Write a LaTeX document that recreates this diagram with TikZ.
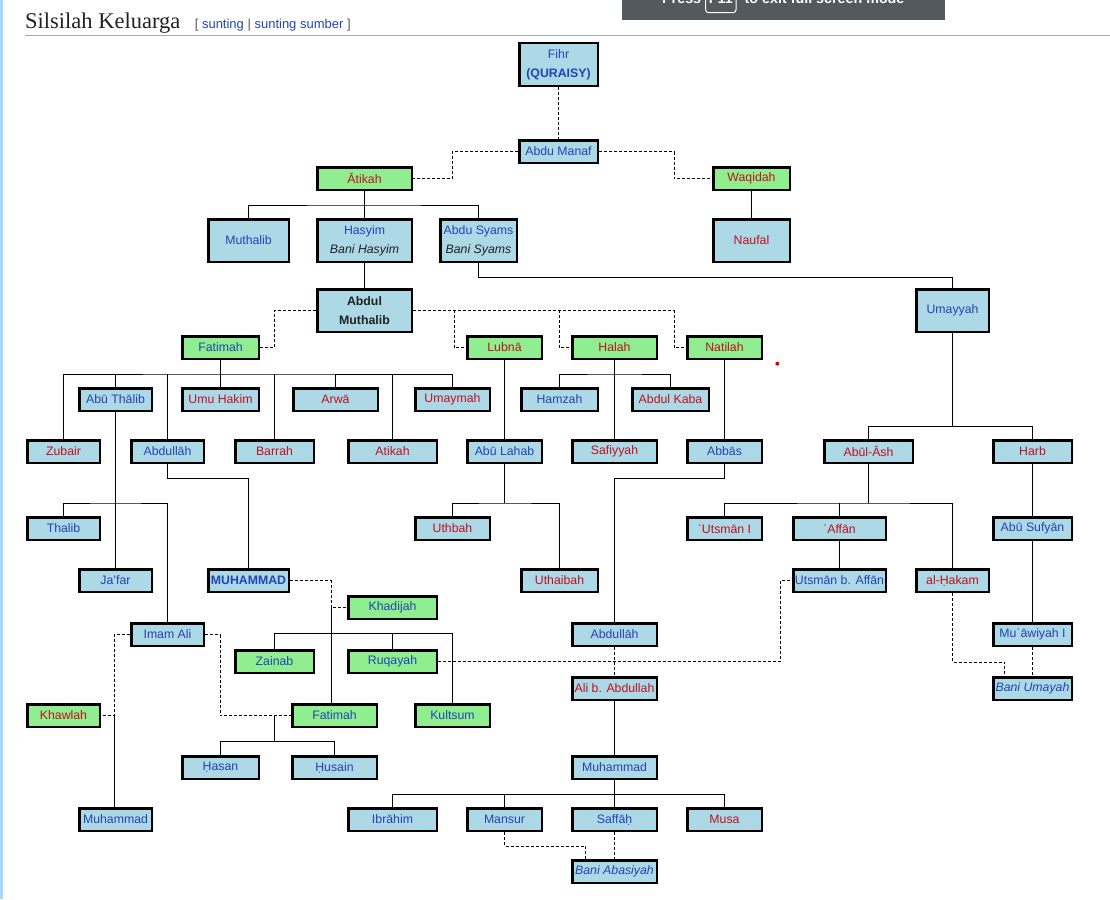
\documentclass[tikz,border=0pt]{standalone}
\usepackage{fontspec}
\setmainfont{Liberation Sans}
\newfontfamily\headfont{Liberation Serif}
\usetikzlibrary{calc}
\definecolor{boxblue}{RGB}{173,216,230}
\definecolor{boxgreen}{RGB}{144,238,144}
\definecolor{linkblue}{RGB}{34,68,180}
\definecolor{linkred}{RGB}{192,16,32}
\definecolor{darktext}{RGB}{32,33,34}
\definecolor{rulegray}{RGB}{162,169,177}
\definecolor{bracketgray}{RGB}{84,89,93}
\definecolor{overlaygray}{RGB}{84,89,93}
\definecolor{edgeblue}{RGB}{167,215,249}
\tikzset{
    person/.style={draw=black, line width=2.5pt, fill=boxblue, text=linkblue, inner sep=0pt,
        minimum height=22.5pt, align=center, font=\fontsize{12.3}{19}\selectfont},
    spouse/.style={person, fill=boxgreen},
    tall/.style={minimum height=42.5pt},
    bw/.style={minimum width=#1pt-2.5pt},
    red link/.style={text=linkred},
    child line/.style={line width=1pt, black},
    marriage line/.style={line width=1pt, black, dash pattern=on 3pt off 2pt},
}

\begin{document}
\begin{tikzpicture}[x=1pt,y=-1pt]
    \useasboundingbox (0,0) rectangle (1110,899);
    \fill[edgeblue] (0,0) rectangle (2.5,899);
    % heading of the section
    \node[anchor=base west, inner sep=0pt, text=darktext, font=\headfont\fontsize{22.5}{26}\selectfont] (heading) at (25,28.3) {Silsilah Keluarga};
    \node[anchor=base west, inner sep=0pt, font=\fontsize{13}{15}\selectfont] (editlinks) at (194.6,28.3)
        {\textcolor{bracketgray}{[} \textcolor{linkblue}{sunting} \textcolor{bracketgray}{|} \textcolor{linkblue}{sunting sumber} \textcolor{bracketgray}{]}};
    \draw[rulegray, line width=1pt] (25,35.5) -- (1110,35.5);
    \fill[overlaygray] (622,0) rectangle (945,20.5);
    \begin{scope}
        \clip (622,0) rectangle (945,20.5);
        \node[anchor=base west, inner sep=0pt, text=white, font=\bfseries\fontsize{14.3}{17}\selectfont] (press) at (662,4) {Press};
        \draw[white, line width=1pt, rounded corners=3pt] (705.6,-14) rectangle (736,12.7);
        \node[anchor=base, inner sep=0pt, text=white, font=\bfseries\fontsize{14.3}{17}\selectfont] (fkey) at (720.8,4) {F11};
        \node[anchor=base west, inner sep=0pt, text=white, font=\bfseries\fontsize{14.3}{17}\selectfont] (exitmsg) at (744.5,4) {to exit full screen mode};
    \end{scope}
    \fill[red!90!black] (777.3,363.7) circle (2pt);

    % Quraisy and Abdu Manaf
    \node[person, tall, bw=81] (fihr) at (558.5,64.5) {Fihr\\\textbf{(QURAISY)}};
    \node[person, bw=81] (manaf) at (558.5,151.5) {Abdu Manaf};
    \node[spouse, red link, bw=97] (atikah) at (364.5,178.5) {Ātikah};
    \node[spouse, red link, bw=79] (waqidah) at (751.5,178.5) {Waqidah};
    \node[person, tall, bw=83] (muthalib) at (248.5,240.5) {Muthalib};
    \node[person, tall, bw=97] (hasyim) at (364.5,240.5) {Hasyim\\\textcolor{darktext}{\itshape Bani Hasyim}};
    \node[person, tall, bw=79] (syams) at (478.5,240.5) {Abdu Syams\\\textcolor{darktext}{\itshape Bani Syams}};
    \node[person, tall, red link, bw=79] (naufal) at (751.5,240.5) {Naufal};
    \node[person, tall, bw=97, text=darktext] (amuthalib) at (364.5,310.5) {\textbf{Abdul}\\\textbf{Muthalib}};
    \node[person, tall, bw=75] (umayyah) at (952.5,310.5) {Umayyah};

    % wives of Abdul Muthalib
    \node[spouse, bw=79] (fatimah) at (220.5,347.5) {Fatimah};
    \node[spouse, red link, bw=77] (lubna) at (504.5,347.5) {Lubnā};
    \node[spouse, red link, bw=87] (halah) at (614.5,347.5) {Halah};
    \node[spouse, red link, bw=77] (natilah) at (724.5,347.5) {Natilah};

    \node[person, bw=75] (abuthalib) at (115.5,399.5) {Abū Thālib};
    \node[person, red link, bw=79] (umuhakim) at (220.5,399.5) {Umu Hakim};
    \node[person, red link, bw=87] (arwa) at (335.5,399.5) {Arwā};
    \node[person, red link, bw=77] (umaymah) at (452.5,399.5) {Umaymah};
    \node[person, bw=79] (hamzah) at (559.5,399.5) {Hamzah};
    \node[person, red link, bw=79] (abdulkaba) at (670.5,399.5) {Abdul Kaba};

    \node[person, red link, bw=75] (zubair) at (63.5,451.5) {Zubair};
    \node[person, bw=75] (abdullah) at (167.5,451.5) {Abdullāh};
    \node[person, red link, bw=81] (barrah) at (274.5,451.5) {Barrah};
    \node[person, red link, bw=91] (atikahb) at (392.5,451.5) {Atikah};
    \node[person, bw=77] (abulahab) at (504.5,451.5) {Abū Lahab};
    \node[person, red link, bw=87] (safiyyah) at (614.5,451.5) {Safiyyah};
    \node[person, bw=77] (abbas) at (724.5,451.5) {Abbās};
    \node[person, red link, bw=91] (abulash) at (868.5,451.5) {Abūl-Āsh};
    \node[person, red link, bw=81] (harb) at (1032.5,451.5) {Harb};

    \node[person, bw=75] (thalib) at (63.5,528.5) {Thalib};
    \node[person, red link, bw=77] (uthbah) at (452.5,528.5) {Uthbah};
    \node[person, red link, bw=77] (utsman) at (724.5,528.5) {ʿUtsmān I};
    \node[person, red link, bw=95] (affan) at (839.5,528.5) {ʿAffān};
    \node[person, bw=81] (abusufyan) at (1032.5,528.5) {Abū Sufyān};

    \node[person, bw=75] (jafar) at (115.5,580.5) {Ja'far};
    \node[person, bw=83] (muhammad) at (248.5,580.5) {\textbf{MUHAMMAD}};
    \node[person, red link, bw=79] (uthaibah) at (559.5,580.5) {Uthaibah};
    \node[person, bw=95] (utsmanb) at (839.5,580.5) {Utsmān b. Affān};
    \node[person, red link, bw=75] (hakam) at (952.5,580.5) {al-Ḥakam};
    \node[spouse, bw=91] (khadijah) at (392.5,607.5) {Khadijah};

    \node[person, bw=75] (imamali) at (167.5,634.5) {Imam Ali};
    \node[person, bw=87] (abdullahb) at (614.5,634.5) {Abdullāh};
    \node[person, bw=81] (muawiyah) at (1032.5,634.5) {Muʿāwiyah I};
    \node[spouse, bw=81] (zainab) at (274.5,661.5) {Zainab};
    \node[spouse, bw=91] (ruqayah) at (392.5,661.5) {Ruqayah};
    \node[person, red link, bw=87] (alib) at (614.5,688.5) {Ali b. Abdullah};
    \node[person, bw=81] (baniumayah) at (1032.5,688.5) {\itshape Bani Umayah};

    \node[spouse, red link, bw=75] (khawlah) at (63.5,715.5) {Khawlah};
    \node[spouse, bw=87] (fatimahb) at (334.5,715.5) {Fatimah};
    \node[spouse, bw=77] (kultsum) at (452.5,715.5) {Kultsum};
    \node[person, bw=79] (hasan) at (220.5,767.5) {Ḥasan};
    \node[person, bw=87] (husain) at (334.5,767.5) {Ḥusain};
    \node[person, bw=87] (muhammadc) at (614.5,767.5) {Muhammad};

    \node[person, bw=75] (muhammadb) at (115.5,819.5) {Muhammad};
    \node[person, bw=91] (ibrahim) at (392.5,819.5) {Ibrāhim};
    \node[person, bw=77] (mansur) at (504.5,819.5) {Mansur};
    \node[person, bw=87] (saffah) at (614.5,819.5) {Saffāḥ};
    \node[person, red link, bw=77] (musa) at (724.5,819.5) {Musa};
    \node[person, bw=87] (baniabbas) at (614.5,871.5) {\itshape Bani Abasiyah};

    % marriages
    \draw[marriage line] (fihr.south) -- (manaf.north);
    \draw[marriage line] (manaf.west) -- ++(-66,0) |- (atikah.east);
    \draw[marriage line] (manaf.east) -- ++(75,0) |- (waqidah.west);
    \draw[marriage line] (amuthalib.west) -- ++(-42,0) |- (fatimah.east);
    \draw[marriage line] (amuthalib.east) -- ++(261,0) |- (natilah.west);
    \draw[marriage line] (amuthalib.east) -- ++(41,0) |- (lubna.west);
    \draw[marriage line] (amuthalib.east) -- ++(146,0) |- (halah.west);
    \draw[marriage line] (muhammad.east) -- ++(41,0) |- coordinate[pos=.5] (mk) (khadijah.west);
    \draw[marriage line] (imamali.west) -- ++(-16,0) |- coordinate[pos=.5] (ak) (khawlah.east);
    \draw[marriage line] (imamali.east) -- ++(15,0) |- (fatimahb.west);
    \coordinate (af) at ($(fatimahb.west)+(-17,0)$);
    \draw[marriage line] (ruqayah.east) -- ++(342,0) |- (utsmanb.west);
    \draw[marriage line] (hakam.south) -- ++(0,69) -| ([xshift=-28pt]baniumayah.north);
    \draw[marriage line] (muawiyah.south) -- (baniumayah.north);
    \draw[marriage line] (abdullahb.south) -- (alib.north);
    \draw[marriage line] (mansur.south) -- ++(0,14) -| ([xshift=-29pt]baniabbas.north);
    \draw[marriage line] (saffah.south) -- (baniabbas.north);

    % children
    \draw[child line] (atikah.south) -- ++(0,14) coordinate (c1);
    \draw[child line] (muthalib.north) |- (c1) -| (syams.north);
    \draw[child line] (c1) -- (hasyim.north);
    \draw[child line] (hasyim.south) -- (amuthalib.north);
    \draw[child line] (waqidah.south) -- (naufal.north);
    \draw[child line] (syams.south) -- ++(0,14) -| (umayyah.north);
    \draw[child line] (fatimah.south) -- ++(0,14) coordinate (c2);
    \draw[child line] (zubair.north) |- (c2) -| (umaymah.north);
    \foreach \n in {abuthalib,umuhakim,arwa,abdullah,barrah,atikahb}
        \draw[child line] (\n.north) -- (\n.north |- c2);
    \draw[child line] (lubna.south) -- (abulahab.north);
    \draw[child line] (halah.south) -- (safiyyah.north);
    \draw[child line] (halah.south) -- ++(0,14) coordinate (c3);
    \draw[child line] (hamzah.north) |- (c3) -| (abdulkaba.north);
    \draw[child line] (natilah.south) -- (abbas.north);
    \draw[child line] (abbas.south) -- ++(0,14) -| (abdullahb.north);
    \draw[child line] (umayyah.south) -- ++(0,93.5) coordinate (c4);
    \draw[child line] (abulash.north) |- (c4) -| (harb.north);
    \draw[child line] (abulash.south) -- ++(0,39) coordinate (c5);
    \draw[child line] (utsman.north) |- (c5) -| (hakam.north);
    \draw[child line] (affan.north) -- (affan.north |- c5);
    \draw[child line] (affan.south) -- (utsmanb.north);
    \draw[child line] (harb.south) -- (abusufyan.north);
    \draw[child line] (abusufyan.south) -- (muawiyah.north);
    \draw[child line] (abuthalib.south) -- (jafar.north);
    \coordinate (c6) at ($(abuthalib.south)+(0,91)$);
    \draw[child line] (thalib.north) |- (c6) -| (imamali.north);
    \draw[child line] (abdullah.south) -- ++(0,14) -| (muhammad.north);
    \draw[child line] (abulahab.south) -- ++(0,39) coordinate (c7);
    \draw[child line] (uthbah.north) |- (c7) -| (uthaibah.north);
    \draw[child line] (mk) -- (mk |- fatimahb.north);
    \draw[child line] (zainab.north) -- ++(0,-16) coordinate (c8) -| (kultsum.north);
    \draw[child line] (ruqayah.north) -- (ruqayah.north |- c8);
    \draw[child line] (af) -- ++(0,26) coordinate (c9);
    \draw[child line] (hasan.north) |- (c9) -| (husain.north);
    \draw[child line] (ak) -- (ak |- muhammadb.north);
    \draw[child line] (alib.south) -- (muhammadc.north);
    \draw[child line] (muhammadc.south) -- ++(0,14) coordinate (c10);
    \draw[child line] (ibrahim.north) |- (c10) -| (musa.north);
    \foreach \n in {mansur,saffah}
        \draw[child line] (\n.north) -- (\n.north |- c10);
\end{tikzpicture}
\end{document}
